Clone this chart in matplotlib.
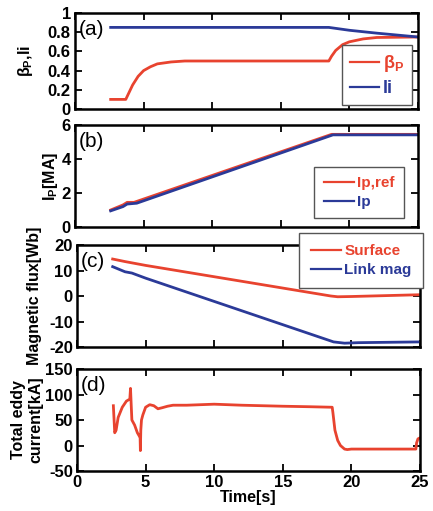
import matplotlib
matplotlib.use("Agg")
import matplotlib.pyplot as plt

plt.rcParams['font.family'] = ['Liberation Sans', 'DejaVu Sans']
plt.rcParams['mathtext.fontset'] = 'custom'
plt.rcParams['mathtext.rm'] = 'Liberation Sans:bold'
plt.rcParams['mathtext.bf'] = 'Liberation Sans:bold'
plt.rcParams['mathtext.it'] = 'Liberation Sans:bold'
plt.rcParams['mathtext.default'] = 'bf'

RED = '#e8432f'
BLUE = '#2b3a98'

# ---- data ----
t_bp = [2.6, 3.7, 3.8, 4.2, 4.6, 5.0, 5.5, 6.0, 7.0, 8.0, 18.5, 18.7, 19.0, 19.5, 20.0, 21.0, 22.0, 25.0]
bp = [0.10, 0.10, 0.13, 0.25, 0.34, 0.40, 0.44, 0.47, 0.49, 0.50, 0.50, 0.55, 0.61, 0.67, 0.70, 0.73, 0.745, 0.75]
t_li = [2.6, 18.5, 20.0, 22.0, 25.0]
li = [0.85, 0.85, 0.82, 0.79, 0.75]

t_ipref = [2.6, 3.5, 3.8, 4.3, 18.7, 25.0]
ipref = [1.0, 1.3, 1.45, 1.45, 5.45, 5.45]
t_ip = [2.6, 3.5, 3.8, 4.5, 18.8, 25.0]
ip = [0.95, 1.2, 1.35, 1.4, 5.42, 5.42]

t_surf = [2.6, 3.5, 4.0, 5.0, 18.5, 19.0, 20.0, 25.0]
surf = [14.5, 13.5, 13.0, 12.0, 0.0, -0.3, -0.2, 0.5]
t_link = [2.6, 3.5, 4.0, 5.0, 18.7, 19.5, 20.5, 25.0]
link = [11.5, 9.5, 9.0, 7.0, -18.0, -18.5, -18.3, -18.0]

t_eddy = [2.65, 2.75, 2.85, 3.0, 3.3, 3.6, 3.85, 3.9, 3.95, 4.0, 4.2, 4.4, 4.55, 4.6, 4.62, 4.65,
          4.7, 4.8, 5.0, 5.3, 5.6, 5.9, 6.2, 6.6, 7.0, 8.0, 10.0, 12.0, 15.0, 17.0, 18.6, 18.65,
          18.8, 19.0, 19.2, 19.5, 19.7, 20.0, 22.0, 24.7, 24.75, 24.85, 25.0]
eddy = [78, 25, 30, 55, 75, 87, 91, 112, 80, 50, 40, 25, 18, 15, -10, 30,
        50, 60, 75, 80, 78, 72, 74, 77, 79, 79, 81, 79, 77, 76, 75, 65,
        30, 10, 0, -7, -8, -7, -7, -7, 5, 13, 15]

xticks = [0, 5, 10, 15, 20, 25]

W, H = 433, 511
fig = plt.figure(figsize=(W / 100, H / 100), dpi=100)

def ax_at(l, r, t, b):
    return fig.add_axes([l / W, 1 - b / H, (r - l) / W, (b - t) / H])

axa = ax_at(75, 418, 13, 109)
axb = ax_at(75, 418, 125, 227)
axc = ax_at(77, 420, 245, 347)
axd = ax_at(77, 420, 369, 471)

TS = 12
for ax in (axa, axb, axc, axd):
    ax.set_xlim(0, 25)
    ax.set_xticks(xticks)
    ax.tick_params(direction='in', top=True, right=True, length=5, width=1.3,
                   labelsize=TS, pad=3)
    for s in ax.spines.values():
        s.set_linewidth(1.8)

for ax in (axa, axb, axc):
    ax.tick_params(labelbottom=False)

lw = 2.0
LS = 11.5
# (a)
axa.plot(t_bp, bp, color=RED, lw=lw, label=r'β$_\mathrm{P}$')
axa.plot(t_li, li, color=BLUE, lw=lw, label='li')
axa.set_ylim(0, 1)
axa.set_yticks([0, 0.2, 0.4, 0.6, 0.8, 1])
axa.set_yticklabels(['0', '0.2', '0.4', '0.6', '0.8', '1'], fontweight='bold', fontsize=TS)
axa.set_ylabel(r'β$_\mathrm{P}$,li', fontsize=LS, fontweight='bold', labelpad=9)

# (b)
axb.plot(t_ipref, ipref, color=RED, lw=lw, label='Ip,ref')
axb.plot(t_ip, ip, color=BLUE, lw=lw, label='Ip')
axb.set_ylim(0, 6)
axb.set_yticks([0, 2, 4, 6])
axb.set_yticklabels(['0', '2', '4', '6'], fontweight='bold', fontsize=TS)
axb.set_ylabel(r'I$_\mathrm{P}$[MA]', fontsize=LS, fontweight='bold', labelpad=1)

# (c)
axc.plot(t_surf, surf, color=RED, lw=lw, label='Surface')
axc.plot(t_link, link, color=BLUE, lw=lw, label='Link mag')
axc.set_ylim(-20, 20)
axc.set_yticks([-20, -10, 0, 10, 20])
axc.set_yticklabels(['-20', '-10', '0', '10', '20'], fontweight='bold', fontsize=TS)
axc.set_ylabel('Magnetic flux[Wb]', fontsize=LS, fontweight='bold', labelpad=5)

# (d)
axd.plot(t_eddy, eddy, color=RED, lw=lw)
axd.set_ylim(-50, 150)
axd.set_yticks([-50, 0, 50, 100, 150])
axd.set_yticklabels(['-50', '0', '50', '100', '150'], fontweight='bold', fontsize=TS)
axd.set_xticklabels([str(v) for v in xticks], fontweight='bold', fontsize=TS)
axd.set_ylabel('Total eddy\ncurrent[kA]', fontsize=LS, fontweight='bold', linespacing=1.25, labelpad=1)
axd.set_xlabel('Time[s]', fontsize=LS, fontweight='bold', labelpad=0)

for ax, lab in zip((axa, axb, axc, axd), ['(a)', '(b)', '(c)', '(d)']):
    ax.text(0.01, 0.93, lab, transform=ax.transAxes, fontsize=15, va='top', ha='left')

def leg(ax, loc, anchor, size=11, hl=2.0, bp=0.45):
    lg = ax.legend(loc=loc, bbox_to_anchor=anchor, fancybox=False, framealpha=1,
                   edgecolor='#555555', handlelength=hl, handletextpad=0.2,
                   borderpad=bp, labelspacing=0.3, borderaxespad=0,
                   prop={'weight': 'bold', 'size': size})
    lg.get_frame().set_linewidth(1.0)
    for txt, line in zip(lg.get_texts(), lg.get_lines()):
        txt.set_color(line.get_color())
        line.set_linewidth(1.6)
    return lg

leg(axa, 'lower right', (0.982, 0.042), size=13, hl=1.6)
leg(axb, 'lower right', (0.959, 0.088), bp=0.6)
leg(axc, 'upper right', (1.009, 1.118), bp=0.75)

fig.savefig('out.png', dpi=100)
